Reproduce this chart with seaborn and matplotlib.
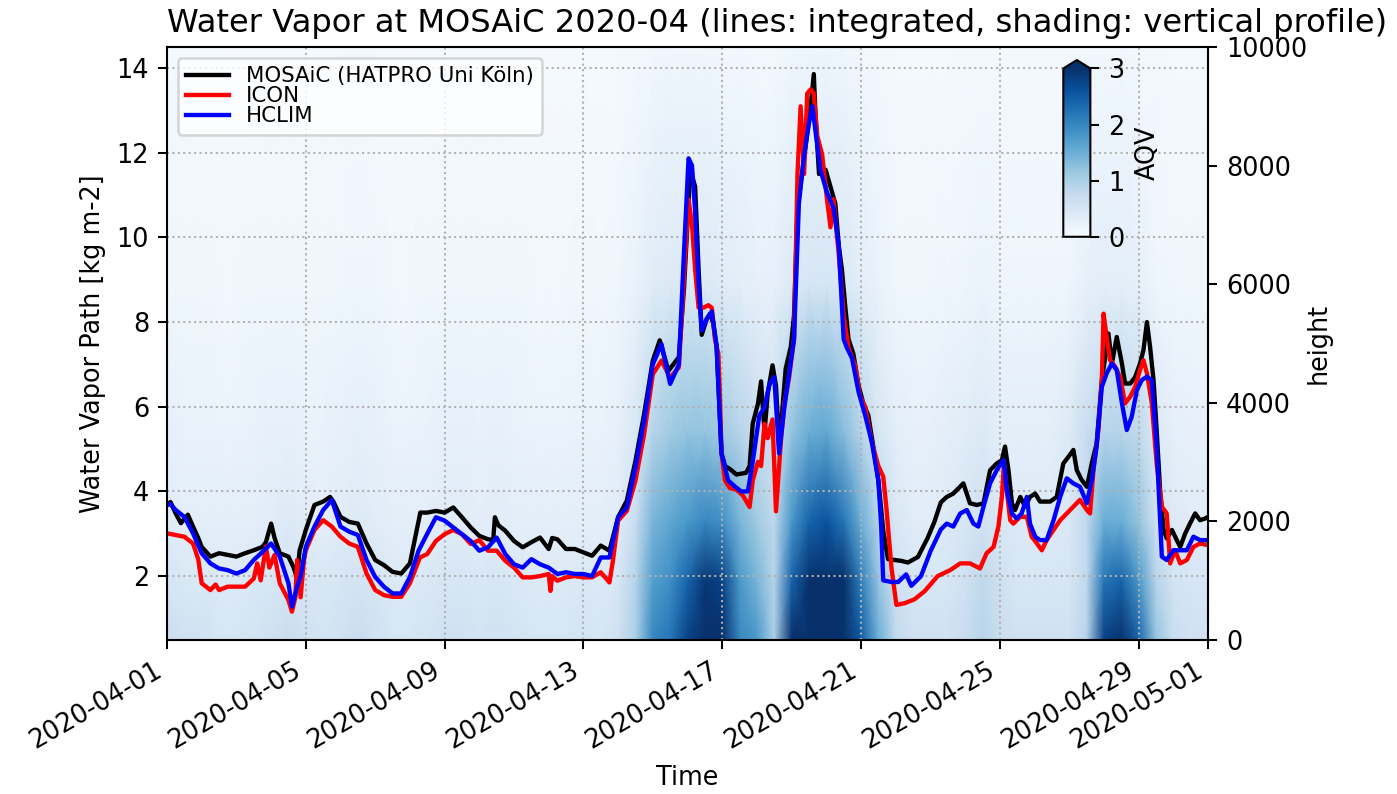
import numpy as np
import pandas as pd
import matplotlib
matplotlib.use("Agg")
import matplotlib.pyplot as plt
import matplotlib.dates as mdates
import seaborn as sns

# ---------------------------------------------------------------- data
START = "2020-04-01"
END = "2020-05-01"
TITLE = "Water Vapor at MOSAiC 2020-04 (lines: integrated, shading: vertical profile)"
tick_dates = ["2020-04-01", "2020-04-05", "2020-04-09", "2020-04-13", "2020-04-17",
              "2020-04-21", "2020-04-25", "2020-04-29", "2020-05-01"]
wvp_ticks = [2, 4, 6, 8, 10, 12, 14]
height_ticks = [0, 2000, 4000, 6000, 8000, 10000]
aqv_ticks = [0, 1, 2, 3]

# integrated water vapour (days since 2020-04-01, kg m-2)
mosaic_day = [0.0, 0.1, 0.25, 0.4, 0.6, 0.75, 0.9, 1.0, 1.25, 1.5, 1.75, 2.0, 2.25, 2.5, 2.75, 2.85,
              3.0, 3.1, 3.25, 3.5, 3.65, 3.75, 3.82, 4.0, 4.25, 4.5, 4.7, 4.8, 5.0, 5.25, 5.5, 5.75,
              6.0, 6.25, 6.5, 6.75, 7.0, 7.2, 7.3, 7.5, 7.75, 8.0, 8.25, 8.5, 8.75, 9.0, 9.25, 9.4,
              9.45, 9.55, 9.75, 10.0, 10.25, 10.5, 10.75, 11.0, 11.1, 11.25, 11.5, 11.75, 12.0,
              12.25, 12.5, 12.75, 13.0, 13.25, 13.5, 13.75, 14.0, 14.2, 14.45, 14.75, 14.9, 15.08,
              15.22, 15.32, 15.41, 15.55, 15.65, 15.74, 15.84, 15.89, 15.98, 16.08, 16.22, 16.41,
              16.69, 16.79, 16.88, 17.03, 17.12, 17.22, 17.31, 17.45, 17.55, 17.64, 17.74, 17.83,
              17.98, 18.07, 18.17, 18.36, 18.55, 18.64, 18.69, 18.79, 18.98, 19.12, 19.26, 19.36,
              19.45, 19.55, 19.64, 19.78, 19.93, 20.07, 20.21, 20.35, 20.5, 20.64, 20.78, 21.16,
              21.35, 21.64, 21.92, 22.11, 22.3, 22.47, 22.66, 22.95, 23.14, 23.34, 23.53, 23.72,
              23.91, 24.06, 24.15, 24.25, 24.35, 24.44, 24.59, 24.73, 24.87, 25.02, 25.16, 25.45,
              25.64, 25.83, 25.98, 26.12, 26.22, 26.36, 26.51, 26.65, 26.79, 26.94, 27.04, 27.13,
              27.23, 27.37, 27.52, 27.61, 27.76, 27.9, 28.04, 28.14, 28.24, 28.33, 28.43, 28.52,
              28.62, 28.72, 28.81, 28.96, 29.1, 29.2, 29.34, 29.48, 29.63, 29.77, 29.92, 30.0]
mosaic_wvp = [3.68, 3.75, 3.48, 3.25, 3.45, 3.17, 2.9, 2.69, 2.46, 2.54, 2.50, 2.46, 2.54, 2.61, 2.69, 2.8,
              3.24, 2.9, 2.54, 2.46, 2.2, 1.95, 2.6, 3.09, 3.68, 3.76, 3.87, 3.75, 3.40, 3.28, 3.24, 2.77,
              2.38, 2.26, 2.10, 2.06, 2.30, 3.1, 3.50, 3.50, 3.54, 3.50, 3.62, 3.39, 3.15, 2.95, 2.87, 2.85,
              3.39, 3.2, 3.07, 2.83, 2.68, 2.80, 2.91, 2.64, 2.9, 2.87, 2.64, 2.64, 2.56,
              2.48, 2.72, 2.60, 3.39, 3.78, 4.72, 5.83, 7.09, 7.57, 6.85, 7.17, 8.8, 11.6,
              11.2, 9.24, 7.7, 8.07, 8.2, 7.98, 7.4, 6.5, 4.9, 4.6, 4.53, 4.4,
              4.44, 4.6, 5.6, 6.07, 6.6, 5.4, 6.3, 6.98, 6.5, 5.08, 6.0, 6.9,
              7.43, 8.16, 10.7, 11.87, 13.1, 13.86, 12.87, 11.5, 11.6, 11.2, 10.8, 9.8,
              9.24, 8.34, 7.6, 7.25, 6.5, 6.07, 5.8, 5.08, 4.26, 3.08, 2.4, 2.36,
              2.32, 2.45, 2.9, 3.27, 3.74, 3.87, 3.95, 4.19, 3.72, 3.68, 3.72, 4.5,
              4.66, 4.74, 5.06, 4.5, 3.72, 3.56, 3.87, 3.64, 3.87, 3.95, 3.76, 3.76,
              3.87, 4.66, 4.82, 4.98, 4.5, 4.27, 4.11, 4.66, 5.13, 6.63, 7.18, 7.73,
              7.02, 7.65, 7.02, 6.55, 6.55, 6.7, 7.02, 7.34, 8.0, 7.42, 6.63, 5.45,
              4.03, 3.09, 2.89, 3.09, 2.85, 2.69, 3.0, 3.24, 3.48, 3.32, 3.36, 3.40]

icon_day = [0.0, 0.25, 0.5, 0.75, 0.9, 1.0, 1.25, 1.4, 1.5, 1.75, 2.0, 2.25, 2.5, 2.6, 2.7, 2.85,
            2.95, 3.1, 3.25, 3.5, 3.6, 3.7, 3.75, 3.85, 3.95, 4.0, 4.25, 4.5, 4.75, 5.0, 5.25, 5.5,
            5.75, 6.0, 6.25, 6.5, 6.75, 7.0, 7.29, 7.5, 7.75, 8.0, 8.25, 8.5, 8.75, 9.0, 9.25, 9.5,
            9.75, 10.0, 10.25, 10.5, 10.75, 11.0, 11.05, 11.1, 11.25, 11.5, 11.75, 12.0, 12.25,
            12.5, 12.75, 12.85, 13.0, 13.25, 13.5, 13.75, 14.0, 14.25, 14.5, 14.75, 14.94, 15.03,
            15.13, 15.22, 15.32, 15.46, 15.6, 15.7, 15.79, 15.89, 15.93, 15.98, 16.08, 16.22,
            16.41, 16.6, 16.79, 16.88, 17.03, 17.12, 17.22, 17.31, 17.45, 17.55, 17.69, 17.79,
            17.93, 18.07, 18.17, 18.26, 18.36, 18.45, 18.55, 18.64, 18.74, 18.88, 19.02, 19.12,
            19.21, 19.36, 19.5, 19.64, 19.83, 19.97, 20.12, 20.31, 20.5, 20.64, 20.73, 20.88,
            21.02, 21.26, 21.54, 21.83, 22.21, 22.57, 22.86, 23.14, 23.43, 23.62, 23.82, 23.96,
            24.06, 24.12, 24.2, 24.3, 24.39, 24.59, 24.78, 24.92, 25.07, 25.21, 25.35, 25.55,
            25.74, 25.93, 26.12, 26.31, 26.51, 26.6, 26.7, 26.84, 26.94, 26.99, 27.08, 27.18,
            27.32, 27.47, 27.61, 27.76, 27.9, 28.04, 28.14, 28.24, 28.38, 28.52, 28.67, 28.81,
            28.91, 29.05, 29.2, 29.39, 29.58, 29.77, 30.0]
icon_wvp = [3.01, 2.97, 2.93, 2.77, 2.4, 1.83, 1.67, 1.8, 1.67, 1.75, 1.75, 1.75, 1.94, 2.3, 1.9, 2.7,
            2.2, 2.5, 1.83, 1.43, 1.16, 1.5, 2.38, 1.5, 2.4, 2.61, 3.09, 3.32, 3.17, 2.93, 2.77, 2.69,
            2.06, 1.67, 1.55, 1.51, 1.51, 1.83, 2.44, 2.52, 2.83, 2.99, 3.09, 2.99, 2.76, 2.85, 2.6, 2.6,
            2.36, 2.2, 1.97, 1.97, 2.0, 2.05, 1.65, 2.0, 1.89, 1.97, 2.0, 1.97, 1.97,
            2.09, 1.85, 2.36, 3.31, 3.54, 4.25, 5.35, 6.77, 7.09, 6.69, 6.93, 9.6, 10.9,
            10.3, 9.24, 8.34, 8.34, 8.4, 8.34, 7.6, 7.25, 6.35, 4.9, 4.26, 4.08,
            4.04, 3.9, 3.63, 4.26, 4.7, 4.6, 5.6, 5.26, 5.7, 3.53, 5.17, 6.07,
            6.7, 7.6, 11.5, 13.1, 11.5, 13.4, 13.5, 13.4, 12.4, 11.96, 10.9, 10.24,
            10.9, 9.6, 8.16, 7.4, 6.98, 6.26, 6.0, 5.17, 4.6, 4.35, 3.63, 2.18,
            1.32, 1.36, 1.45, 1.64, 2.0, 2.14, 2.3, 2.3, 2.18, 2.54, 2.69, 3.17,
            3.87, 4.66, 4.03, 3.32, 3.24, 3.4, 3.4, 2.93, 2.77, 2.61, 2.85, 3.09,
            3.32, 3.48, 3.64, 3.8, 3.56, 3.48, 4.5, 5.45, 6.63, 8.2, 7.65, 7.1,
            6.95, 6.7, 6.08, 6.24, 6.47, 6.87, 7.1, 6.79, 6.08, 4.66, 3.64, 3.48,
            2.3, 2.61, 2.3, 2.38, 2.69, 2.77, 2.73]

hclim_day = [0.0, 0.1, 0.25, 0.5, 0.75, 1.0, 1.25, 1.5, 1.75, 2.0, 2.25, 2.5, 2.75, 3.0, 3.25, 3.5,
             3.6, 3.75, 3.85, 4.0, 4.25, 4.5, 4.75, 5.0, 5.25, 5.5, 5.75, 6.0, 6.25, 6.5, 6.75, 7.0,
             7.25, 7.5, 7.75, 8.0, 8.25, 8.5, 8.75, 9.0, 9.25, 9.5, 9.75, 10.0, 10.25, 10.5, 10.75,
             11.0, 11.25, 11.5, 11.75, 12.0, 12.25, 12.5, 12.75, 13.0, 13.25, 13.5, 13.75, 14.0,
             14.25, 14.5, 14.75, 14.89, 15.03, 15.13, 15.22, 15.32, 15.41, 15.55, 15.7, 15.84,
             15.98, 16.17, 16.36, 16.55, 16.74, 16.88, 17.07, 17.22, 17.36, 17.5, 17.64, 17.79,
             17.93, 18.07, 18.21, 18.36, 18.5, 18.6, 18.69, 18.83, 19.02, 19.21, 19.36, 19.5,
             19.59, 19.74, 19.93, 20.12, 20.31, 20.5, 20.58, 20.64, 20.88, 21.07, 21.3, 21.45,
             21.73, 22.01, 22.3, 22.47, 22.66, 22.86, 23.05, 23.24, 23.38, 23.53, 23.72, 23.91,
             24.11, 24.2, 24.35, 24.49, 24.63, 24.78, 24.87, 25.02, 25.16, 25.35, 25.55, 25.74,
             25.93, 26.12, 26.31, 26.51, 26.65, 26.79, 26.94, 27.08, 27.23, 27.37, 27.52, 27.66,
             27.8, 27.95, 28.09, 28.24, 28.38, 28.52, 28.67, 28.81, 29.0, 29.2, 29.39, 29.58,
             29.77, 30.0]
hclim_wvp = [3.68, 3.7, 3.56, 3.4, 3.01, 2.54, 2.3, 2.18, 2.14, 2.06, 2.14, 2.38, 2.57, 2.77, 2.46, 1.83,
             1.28, 1.75, 2.0, 2.69, 3.17, 3.56, 3.80, 3.17, 3.05, 2.97, 2.38, 1.98, 1.75, 1.59, 1.59, 1.98,
             2.6, 3.0, 3.39, 3.31, 3.15, 2.99, 2.83, 2.6, 2.68, 2.91, 2.52, 2.28, 2.2, 2.4, 2.28,
             2.2, 2.05, 2.09, 2.05, 2.05, 2.0, 2.44, 2.44, 3.39, 3.62, 4.57, 5.67, 7.0,
             7.48, 6.54, 7.0, 9.5, 11.87, 11.7, 10.6, 8.9, 7.8, 8.07, 8.25, 7.43,
             4.9, 4.26, 4.12, 4.0, 4.0, 4.7, 5.8, 5.98, 6.53, 6.7, 4.9, 5.98,
             6.8, 7.6, 10.8, 11.96, 12.7, 13.1, 12.5, 11.6, 11.06, 10.7, 9.8, 7.6,
             7.4, 7.15, 6.35, 5.8, 5.17, 4.26, 3.2, 1.9, 1.86, 1.86, 2.04, 1.77,
             2.0, 2.6, 3.1, 3.24, 3.17, 3.48, 3.56, 3.24, 3.17, 3.64, 4.19, 4.5,
             4.74, 4.03, 3.48, 3.36, 3.48, 3.87, 3.24, 2.93, 2.85, 2.85, 3.32, 3.87,
             4.31, 4.19, 4.11, 3.72, 4.27, 5.06, 6.47, 6.79, 7.02, 6.87, 6.08, 5.45,
             5.76, 6.39, 6.63, 6.71, 6.63, 5.06, 2.46, 2.38, 2.61, 2.61, 2.61, 2.93,
             2.85, 2.85]

# vertical profile of AQV (shading), one value per 12 h node (day 0 ... day 30) and level
profile_heights = [0, 1000, 2000, 3500, 6000, 10000]
aqv_0m = [0.7, 0.6, 0.6, 0.5, 0.5, 0.55, 0.6, 0.7, 0.6, 0.55,
          0.6, 0.7, 0.6, 0.5, 0.5, 0.55, 0.6, 0.6, 0.55, 0.6,
          0.55, 0.5, 0.5, 0.5, 0.55, 0.5, 0.6, 1.0, 2.0, 2.2,
          2.8, 3.4, 3.4, 2.0, 1.8, 1.0, 3.0, 3.3, 3.6, 3.4,
          2.5, 1.5, 0.8, 0.6, 0.6, 0.6, 0.7, 0.9, 0.7, 0.6,
          0.6, 0.6, 0.6, 0.9, 2.8, 3.2, 2.4, 1.2, 0.7, 0.6,
          0.6]
aqv_1000m = [0.5, 0.45, 0.45, 0.4, 0.4, 0.45, 0.5, 0.55, 0.5, 0.45,
             0.5, 0.55, 0.5, 0.4, 0.4, 0.45, 0.5, 0.5, 0.45, 0.5,
             0.45, 0.4, 0.4, 0.4, 0.45, 0.4, 0.5, 0.9, 1.7, 1.9,
             2.4, 2.9, 2.8, 1.8, 1.4, 0.9, 2.4, 3.0, 3.3, 3.1,
             2.1, 1.2, 0.6, 0.5, 0.5, 0.5, 0.6, 0.8, 0.6, 0.5,
             0.5, 0.5, 0.5, 0.8, 2.2, 2.4, 1.8, 0.9, 0.55, 0.5,
             0.5]
aqv_2000m = [0.35, 0.3, 0.3, 0.3, 0.3, 0.3, 0.35, 0.4, 0.35, 0.3,
             0.35, 0.4, 0.35, 0.3, 0.3, 0.3, 0.35, 0.35, 0.3, 0.35,
             0.3, 0.3, 0.3, 0.3, 0.3, 0.3, 0.35, 0.7, 1.4, 1.6,
             1.8, 2.0, 1.9, 1.4, 1.1, 0.8, 1.8, 2.4, 2.6, 2.2,
             1.5, 0.9, 0.45, 0.35, 0.35, 0.4, 0.5, 0.6, 0.45, 0.4,
             0.4, 0.4, 0.45, 0.8, 1.5, 1.5, 1.2, 0.6, 0.4, 0.35,
             0.35]
aqv_3500m = [0.25, 0.22, 0.22, 0.2, 0.2, 0.22, 0.25, 0.25, 0.22, 0.22,
             0.25, 0.28, 0.25, 0.2, 0.2, 0.22, 0.25, 0.25, 0.22, 0.25,
             0.22, 0.2, 0.2, 0.2, 0.22, 0.2, 0.25, 0.45, 0.9, 1.1,
             1.2, 1.2, 1.1, 0.9, 0.7, 0.6, 1.2, 1.5, 1.6, 1.3,
             0.9, 0.5, 0.3, 0.25, 0.25, 0.3, 0.35, 0.4, 0.3, 0.3,
             0.3, 0.3, 0.4, 0.7, 0.9, 0.9, 0.8, 0.4, 0.28, 0.25,
             0.25]
aqv_6000m = [0.12, 0.12, 0.12, 0.1, 0.1, 0.12, 0.12, 0.12, 0.12, 0.12,
             0.12, 0.14, 0.12, 0.1, 0.1, 0.12, 0.12, 0.12, 0.12, 0.12,
             0.12, 0.1, 0.1, 0.1, 0.12, 0.1, 0.12, 0.2, 0.35, 0.4,
             0.4, 0.4, 0.35, 0.3, 0.25, 0.25, 0.4, 0.5, 0.5, 0.45,
             0.3, 0.2, 0.12, 0.12, 0.12, 0.14, 0.15, 0.18, 0.14, 0.14,
             0.14, 0.14, 0.15, 0.25, 0.3, 0.3, 0.25, 0.15, 0.12, 0.12,
             0.12]
aqv_10000m = [0.05, 0.05, 0.05, 0.04, 0.04, 0.05, 0.05, 0.05, 0.05, 0.05,
              0.05, 0.06, 0.05, 0.04, 0.04, 0.05, 0.05, 0.05, 0.05, 0.05,
              0.05, 0.04, 0.04, 0.04, 0.05, 0.04, 0.05, 0.07, 0.1, 0.12,
              0.12, 0.12, 0.1, 0.1, 0.08, 0.08, 0.12, 0.14, 0.14, 0.12,
              0.1, 0.07, 0.05, 0.05, 0.05, 0.05, 0.06, 0.07, 0.06, 0.06,
              0.06, 0.06, 0.06, 0.08, 0.1, 0.1, 0.08, 0.06, 0.05, 0.05,
              0.05]

# ---------------------------------------------------------------- figure
W, H, DPI = 1397, 794, 184
fig = plt.figure(figsize=(W / DPI, H / DPI), dpi=DPI)
ax1 = fig.add_axes([167 / W, 1 - 640 / H, (1208 - 167) / W, (640 - 47) / H])
ax2 = ax1.twinx()

start = pd.Timestamp(START)


def to_time(days):
    return start + pd.to_timedelta(np.asarray(days, dtype=float), unit="D")


# shading: vertical profile on right axis
shade_days = np.linspace(0, 30, len(aqv_0m))
shade_x = mdates.date2num(to_time(shade_days))
aqv = np.array([aqv_0m, aqv_1000m, aqv_2000m, aqv_3500m, aqv_6000m, aqv_10000m])
mesh = ax2.pcolormesh(shade_x, profile_heights, aqv, shading="gouraud",
                      cmap="Blues", vmin=0, vmax=3)
ax2.set_ylim(0, 10000)
ax2.set_yticks(height_ticks)
ax2.set_ylabel("height")
ax2.yaxis.set_label_coords(1.094, 0.5)

# lines: integrated water vapour on left axis
series = [
    (mosaic_day, mosaic_wvp, "black", "MOSAiC (HATPRO Uni Köln)"),
    (icon_day, icon_wvp, "red", "ICON"),
    (hclim_day, hclim_wvp, "blue", "HCLIM"),
]
for days, vals, color, label in series:
    df = pd.DataFrame({"time": to_time(days), "wvp": vals})
    sns.lineplot(data=df, x="time", y="wvp", ax=ax1, color=color, lw=1.7,
                 label=label, estimator=None, sort=False)

ax1.set_zorder(ax2.get_zorder() + 1)
ax1.patch.set_visible(False)

ax1.set_xlim(mdates.date2num(pd.Timestamp(START)), mdates.date2num(pd.Timestamp(END)))
ax1.set_ylim(0.49, 14.5)
ax1.set_yticks(wvp_ticks)
ax1.set_xticks(mdates.date2num(pd.to_datetime(tick_dates)))
ax1.xaxis.set_major_formatter(mdates.DateFormatter("%Y-%m-%d"))
for lbl in ax1.get_xticklabels():
    lbl.set_rotation(30)
    lbl.set_ha("right")
ax1.grid(True, linestyle=":", color="#b0b0b0", linewidth=0.8)
ax1.set_xlabel("Time")
ax1.set_ylabel("Water Vapor Path [kg m-2]")
ax1.set_title(TITLE, loc="left", fontsize=12.6)
ax1.legend(loc="upper left", fontsize=8.33, labelspacing=0.0)

# colour bar inset
cax = ax1.inset_axes([0.861, 0.680, 0.026, 0.298])
cb = fig.colorbar(mesh, cax=cax, extend="max")
cb.set_ticks(aqv_ticks)
cb.set_label("AQV")

fig.savefig("out.png", dpi=DPI)
